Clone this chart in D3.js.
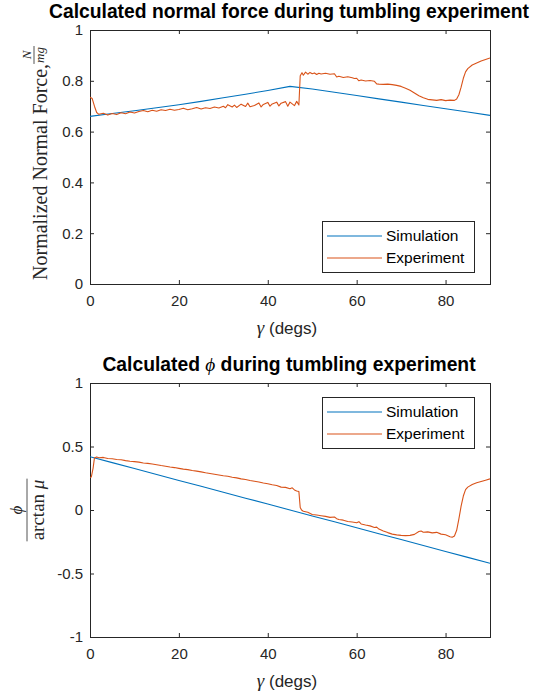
<!DOCTYPE html>
<html>
<head>
<meta charset="utf-8">
<script src="https://cdnjs.cloudflare.com/ajax/libs/d3/7.8.5/d3.min.js"></script>
<style>
  html, body { margin: 0; padding: 0; background: #fff; }
  svg { display: block; }
  .tick text { font-family: "Liberation Sans", Arial, sans-serif; font-size: 15px; fill: #262626; }
  .tick line { stroke: #262626; }
</style>
</head>
<body>
<div id="chart"></div>
<script>
// ── data ─────────────────────────────────────────────────────────────────────
const xTicks     = [0, 20, 40, 60, 80];
const forceTicks = [0, 0.2, 0.4, 0.6, 0.8, 1];
const phiTicks   = [-1, -0.5, 0, 0.5, 1];
const seriesNames = ['Simulation', 'Experiment'];

// simulation, sampled every 5 degs
const simGamma = [0, 5, 10, 15, 20, 25, 30, 35, 40, 45, 50, 55, 60, 65, 70, 75, 80, 85, 90];
const simForce = [0.660, 0.671, 0.682, 0.694, 0.706, 0.719, 0.733, 0.747, 0.762, 0.778,
                  0.768, 0.755, 0.742, 0.729, 0.716, 0.703, 0.690, 0.677, 0.664];
const simPhi   = [0.420, 0.373, 0.327, 0.280, 0.233, 0.187, 0.140, 0.093, 0.047, 0.000,
                  -0.047, -0.093, -0.140, -0.187, -0.233, -0.280, -0.327, -0.373, -0.420];

// experiment, normal force
const expForceGamma = [0, 0.5, 1, 1.5, 2, 3, 4, 5, 6, 7, 8, 9, 10, 11, 12, 13, 14, 15, 16, 17, 18, 19,
  20, 21, 22, 23, 24, 25, 26, 27, 28, 29, 30, 30.5, 31, 32, 32.5, 33, 34, 35, 35.5, 36, 37, 38, 38.5,
  39, 40, 40.5, 41, 42, 42.5, 43, 44, 44.5, 45, 46, 46.5, 47, 47.3, 47.7, 48, 48.5, 49, 49.5, 50, 50.5,
  51, 51.5, 52, 53, 54, 55, 55.5, 56, 57, 58, 59, 59.5, 60, 60.5, 61, 62, 63, 64, 64.5, 65, 66, 67, 68,
  69, 70, 71, 72, 73, 74, 75, 76, 77, 78, 79, 80, 81, 82, 82.5, 83, 83.5, 84, 84.5, 85, 86, 87, 88,
  89, 90];
const expForce = [0.735, 0.730, 0.700, 0.675, 0.668, 0.672, 0.665, 0.671, 0.667, 0.674, 0.670, 0.677,
  0.673, 0.679, 0.683, 0.678, 0.684, 0.680, 0.686, 0.683, 0.688, 0.684, 0.687, 0.692, 0.686, 0.690,
  0.695, 0.689, 0.694, 0.691, 0.697, 0.693, 0.700, 0.694, 0.706, 0.697, 0.704, 0.695, 0.708, 0.699,
  0.712, 0.698, 0.703, 0.713, 0.697, 0.707, 0.715, 0.700, 0.709, 0.716, 0.701, 0.712, 0.718, 0.700,
  0.716, 0.702, 0.719, 0.705, 0.820, 0.832, 0.822, 0.834, 0.826, 0.833, 0.828, 0.831, 0.825, 0.830,
  0.827, 0.830, 0.826, 0.828, 0.815, 0.818, 0.813, 0.816, 0.812, 0.809, 0.810, 0.800, 0.803, 0.799,
  0.801, 0.798, 0.788, 0.787, 0.786, 0.787, 0.785, 0.782, 0.778, 0.771, 0.763, 0.752, 0.741, 0.733,
  0.727, 0.725, 0.723, 0.726, 0.722, 0.724, 0.723, 0.728, 0.745, 0.775, 0.810, 0.835, 0.848, 0.862,
  0.870, 0.878, 0.884, 0.890];

// experiment, phi / arctan(mu)
const expPhiGamma = [0, 0.3, 0.7, 1, 1.5, 2, 3, 4, 5, 6, 7, 8, 9, 10, 11, 12, 13, 14, 15, 16, 17, 18,
  19, 20, 21, 22, 23, 24, 25, 26, 27, 28, 29, 30, 31, 32, 33, 34, 35, 36, 37, 38, 39, 40, 41, 42, 43,
  44, 45, 45.5, 46, 46.5, 47, 47.3, 47.6, 48, 49, 50, 51, 52, 53, 54, 55, 55.5, 56, 57, 58, 59, 60,
  60.5, 61, 62, 63, 64, 64.5, 65, 66, 67, 68, 69, 70, 71, 72, 73, 74, 74.5, 75, 76, 77, 78, 79, 80,
  81, 81.5, 82, 82.5, 83, 83.5, 84, 84.5, 85, 86, 87, 88, 89, 90];
const expPhi = [0.257, 0.260, 0.330, 0.410, 0.418, 0.412, 0.414, 0.405, 0.404, 0.398, 0.396, 0.389,
  0.384, 0.381, 0.377, 0.370, 0.367, 0.362, 0.356, 0.350, 0.345, 0.338, 0.334, 0.328, 0.322, 0.318,
  0.311, 0.306, 0.300, 0.293, 0.288, 0.282, 0.276, 0.270, 0.266, 0.258, 0.253, 0.245, 0.240, 0.232,
  0.226, 0.220, 0.212, 0.207, 0.199, 0.193, 0.180, 0.178, 0.168, 0.175, 0.158, 0.150, 0.145, 0.020,
  0.000, -0.010, -0.018, -0.035, -0.040, -0.045, -0.050, -0.058, -0.055, -0.068, -0.075, -0.080,
  -0.090, -0.095, -0.100, -0.092, -0.110, -0.118, -0.125, -0.138, -0.135, -0.150, -0.165, -0.178,
  -0.190, -0.196, -0.200, -0.202, -0.200, -0.192, -0.170, -0.165, -0.175, -0.172, -0.180, -0.176,
  -0.190, -0.195, -0.210, -0.215, -0.205, -0.160, -0.070, 0.030, 0.110, 0.160, 0.180, 0.200, 0.215,
  0.225, 0.235, 0.245];

// ── layout ───────────────────────────────────────────────────────────────────
const W = 533, H = 698;
const colors = ['#0072BD', '#D95319'];
const axisColor = '#262626';
const sansFont  = '"Liberation Sans", Arial, sans-serif';
const serifFont = '"Liberation Serif", "Times New Roman", serif';

const svg = d3.select('#chart').append('svg')
  .attr('width', W).attr('height', H);

const xScale = d3.scaleLinear().domain([0, 90]).range([90, 490]);

const zip = (xs, ys) => xs.map((g, i) => [g, ys[i]]);

// ── drawPanel ────────────────────────────────────────────────────────────────
function drawPanel(p) {
  const y = d3.scaleLinear().domain(p.domain).range([p.bottom, p.top]);
  const g = svg.append('g');
  const [x0, x1] = xScale.range();

  const clipId = 'clip' + p.id;
  g.append('clipPath').attr('id', clipId)
    .append('rect').attr('x', x0).attr('y', p.top)
    .attr('width', x1 - x0).attr('height', p.bottom - p.top);

  // axes: ticks point inward on all four sides
  const fmt = d => String(d);
  g.append('g').attr('transform', `translate(0,${p.bottom})`)
    .call(d3.axisBottom(xScale).tickValues(xTicks).tickFormat(fmt).tickSize(-4).tickPadding(11))
    .call(a => a.select('.domain').remove());
  g.append('g').attr('transform', `translate(0,${p.top})`)
    .call(d3.axisTop(xScale).tickValues(xTicks).tickFormat('').tickSize(-4))
    .call(a => a.select('.domain').remove());
  g.append('g').attr('transform', `translate(${x0},0)`)
    .call(d3.axisLeft(y).tickValues(p.ticks).tickFormat(fmt).tickSize(-4).tickPadding(7))
    .call(a => a.select('.domain').remove());
  g.append('g').attr('transform', `translate(${x1},0)`)
    .call(d3.axisRight(y).tickValues(p.ticks).tickFormat('').tickSize(-4))
    .call(a => a.select('.domain').remove());
  g.selectAll('.tick text').attr('font-family', null).attr('font-size', null);

  g.append('rect')
    .attr('x', x0 + 0.5).attr('y', p.top + 0.5)
    .attr('width', x1 - x0).attr('height', p.bottom - p.top)
    .attr('fill', 'none').attr('stroke', axisColor).attr('stroke-width', 1);

  // lines
  const line = d3.line().x(d => xScale(d[0])).y(d => y(d[1]));
  p.series.forEach((s, i) => {
    g.append('path')
      .datum(s)
      .attr('clip-path', `url(#${clipId})`)
      .attr('fill', 'none')
      .attr('stroke', colors[i])
      .attr('stroke-width', 1.1)
      .attr('stroke-linejoin', 'round')
      .attr('d', line);
  });

  // title
  const t = g.append('text')
    .attr('x', (x0 + x1) / 2 - 1).attr('y', p.top - 12)
    .attr('text-anchor', 'middle')
    .attr('font-family', sansFont).attr('font-size', 19.3).attr('font-weight', 'bold')
    .attr('fill', '#000');
  p.title.forEach(part => {
    const ts = t.append('tspan').text(part.text);
    if (part.math) ts.attr('font-family', serifFont).attr('font-style', 'italic').attr('font-weight', 'normal');
  });

  // x label
  const xl = g.append('text')
    .attr('x', (x0 + x1) / 2 - 3).attr('y', p.bottom + 50)
    .attr('text-anchor', 'middle')
    .attr('font-family', sansFont).attr('font-size', 17).attr('fill', axisColor);
  xl.append('tspan').attr('font-family', serifFont).attr('font-style', 'italic').attr('font-size', 19).text('γ');
  xl.append('tspan').text(' (degs)');

  // legend
  const lg = g.append('g').attr('transform', `translate(322,${p.legendTop})`);
  lg.append('rect').attr('x', 0.5).attr('y', 0.5).attr('width', 152).attr('height', 51)
    .attr('fill', '#fff').attr('stroke', axisColor).attr('stroke-width', 1);
  seriesNames.forEach((name, i) => {
    const ry = 15 + i * 22;
    lg.append('line').attr('x1', 5).attr('x2', 60).attr('y1', ry).attr('y2', ry)
      .attr('stroke', colors[i]).attr('stroke-width', 1.1);
    lg.append('text').attr('x', 64).attr('y', ry).attr('dy', '0.35em')
      .attr('font-family', sansFont).attr('font-size', 15.5).attr('fill', '#000')
      .text(name);
  });

  p.yLabel(g, (p.top + p.bottom) / 2);
}

// y label: Normalized Normal Force, N/mg
function forceLabel(g, cy) {
  const lab = g.append('g').attr('transform', `translate(47,${cy + 6}) rotate(-90)`);
  const main = lab.append('text')
    .attr('font-family', serifFont).attr('font-size', 20).attr('fill', axisColor)
    .text('Normalized Normal Force, ');
  const mainLen = main.node().getComputedTextLength();
  const num = lab.append('text').attr('text-anchor', 'middle')
    .attr('font-family', serifFont).attr('font-style', 'italic').attr('font-size', 13)
    .attr('fill', axisColor).text('N');
  const den = lab.append('text').attr('text-anchor', 'middle')
    .attr('font-family', serifFont).attr('font-style', 'italic').attr('font-size', 13)
    .attr('fill', axisColor).text('mg');
  const fw = Math.max(num.node().getComputedTextLength(), den.node().getComputedTextLength()) + 2;
  const start = -(mainLen + fw) / 2;
  main.attr('x', start);
  const fc = start + mainLen + fw / 2;
  num.attr('x', fc).attr('y', -16);
  den.attr('x', fc).attr('y', -3);
  lab.append('line').attr('x1', fc - fw / 2).attr('x2', fc + fw / 2)
    .attr('y1', -13).attr('y2', -13).attr('stroke', axisColor).attr('stroke-width', 0.8);
}

// y label: phi / arctan mu
function phiLabel(g, cy) {
  const lab = g.append('g').attr('transform', `translate(44,${cy}) rotate(-90)`);
  const den = lab.append('text').attr('text-anchor', 'middle')
    .attr('font-family', serifFont).attr('font-size', 19).attr('fill', axisColor);
  den.append('tspan').text('arctan ');
  den.append('tspan').attr('font-style', 'italic').text('μ');
  const dw = den.node().getComputedTextLength() + 2;
  lab.append('line').attr('x1', -dw / 2).attr('x2', dw / 2)
    .attr('y1', -17).attr('y2', -17).attr('stroke', axisColor).attr('stroke-width', 0.8);
  lab.append('text').attr('text-anchor', 'middle').attr('y', -22)
    .attr('font-family', serifFont).attr('font-style', 'italic').attr('font-size', 17)
    .attr('fill', axisColor).text('ϕ');
}

drawPanel({
  id: 1, top: 30, bottom: 284, domain: [0, 1], ticks: forceTicks,
  series: [zip(simGamma, simForce), zip(expForceGamma, expForce)],
  title: [{ text: 'Calculated normal force during tumbling experiment' }],
  legendTop: 221, yLabel: forceLabel
});

drawPanel({
  id: 2, top: 383, bottom: 637, domain: [-1, 1], ticks: phiTicks,
  series: [zip(simGamma, simPhi), zip(expPhiGamma, expPhi)],
  title: [{ text: 'Calculated ' }, { text: 'ϕ', math: true }, { text: ' during tumbling experiment' }],
  legendTop: 397, yLabel: phiLabel
});
</script>
</body>
</html>
